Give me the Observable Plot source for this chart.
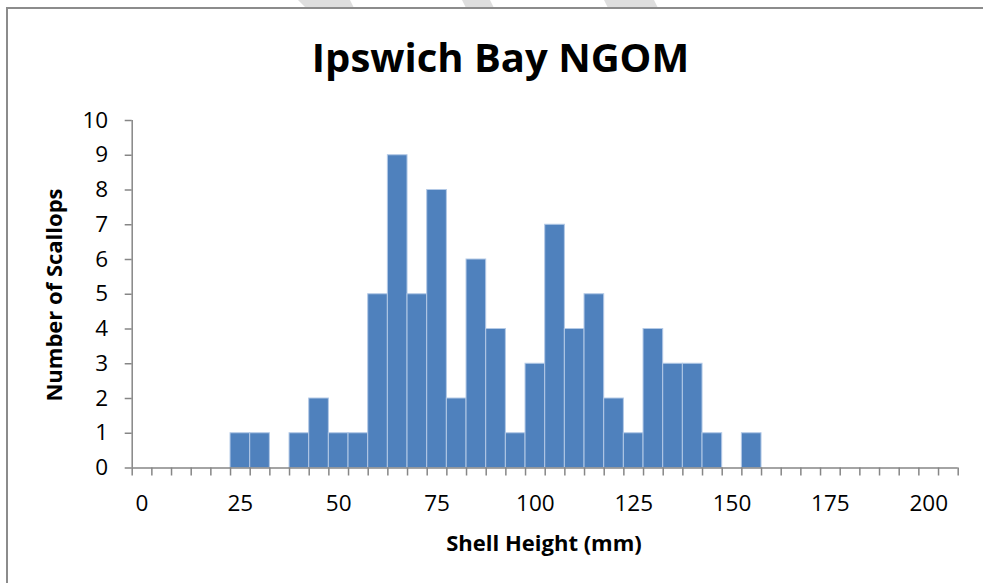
<!DOCTYPE html>
<html><head><meta charset="utf-8">
<script src="https://cdn.jsdelivr.net/npm/d3@7"></script>
<script src="https://cdn.jsdelivr.net/npm/@observablehq/plot@0.6"></script>
<style>
body{margin:0;background:#fff;}
#wrap{position:relative;width:983px;height:583px;overflow:hidden;background:#fff;}
#wm{position:absolute;left:0;top:0;}
#border{position:absolute;left:6px;top:7px;width:1200px;height:800px;border-left:2px solid #8c8c8c;border-top:2px solid #8c8c8c;}
#chart{position:absolute;left:0;top:0;}
</style></head><body>
<div id="wrap">
<svg id="wm" width="983" height="40">
<polygon points="298,0 350,0 354,8 306,8" fill="#dedede"/>
<polygon points="462,0 490,0 494,8 466,8" fill="#dedede"/>
<polygon points="604,0 654,0 658,8 608,8" fill="#dedede"/>
</svg>
<div id="border"></div>
<div id="chart"></div>
</div>
<script>
const bins = [0,5,10,15,20,25,30,35,40,45,50,55,60,65,70,75,80,85,90,95,100,105,110,115,120,125,130,135,140,145,150,155,160,165,170,175,180,185,190,195,200,205];
const counts = [0,0,0,0,0,1,1,0,1,2,1,1,5,9,5,8,2,6,4,1,3,7,4,5,2,1,4,3,3,1,0,1,0,0,0,0,0,0,0,0,0,0];
const xLabelTicks = [0,25,50,75,100,125,150,175,200];
const yTicks = [0,1,2,3,4,5,6,7,8,9,10];
const titleText = "Ipswich Bay NGOM";
const xTitle = "Shell Height (mm)";
const yTitle = "Number of Scallops";

const data = bins.map((b, i) => ({bin: b, count: counts[i]}));
const half = 2.5;
const edges = bins.map(b => b - half).concat([bins[bins.length - 1] + half]);
const axisColor = "#868686";
const font = "'Open Sans', sans-serif";

const plot = Plot.plot({
  width: 983, height: 583,
  marginLeft: 131.7, marginRight: 25.3, marginTop: 120, marginBottom: 115.5,
  style: {fontFamily: font, background: "transparent", overflow: "visible"},
  x: {domain: [bins[0] - half, bins[bins.length - 1] + half]},
  y: {domain: [0, 10]},
  marks: [
    Plot.rectY(data, {x1: d => d.bin - half, x2: d => d.bin + half, y1: 0, y2: "count",
      fill: "#4f81bd", stroke: "#b3c9e6", strokeWidth: 1}),
    Plot.ruleY([0], {stroke: axisColor, strokeWidth: 1.5}),
    Plot.ruleX([bins[0] - half], {stroke: axisColor, strokeWidth: 1.5}),
    Plot.axisY({ticks: yTicks, tickSize: 7, tickPadding: 17, fontSize: 22.5, stroke: axisColor, strokeWidth: 1.5, fill: "black", label: null}),
    Plot.axisX({ticks: edges, tickSize: 8, tickFormat: () => "", stroke: axisColor, strokeWidth: 1.5, label: null}),
    Plot.axisX({ticks: xLabelTicks, tickSize: 0, tickPadding: 27, fontSize: 22.5, fill: "black", label: null})
  ]
});

const svg = d3.select(plot);
svg.append("text").text(titleText)
  .attr("x", 500.5).attr("y", 72).attr("text-anchor", "middle")
  .attr("font-family", font).attr("font-weight", "bold").attr("font-size", 40).attr("fill", "black");
svg.append("text").text(xTitle)
  .attr("x", 544).attr("y", 551).attr("text-anchor", "middle")
  .attr("font-family", font).attr("font-weight", "bold").attr("font-size", 22).attr("fill", "black");
svg.append("text").text(yTitle)
  .attr("transform", "translate(62,295) rotate(-90)").attr("text-anchor", "middle")
  .attr("font-family", font).attr("font-weight", "bold").attr("font-size", 22).attr("fill", "black");

document.getElementById("chart").appendChild(plot);
</script>
</body></html>
